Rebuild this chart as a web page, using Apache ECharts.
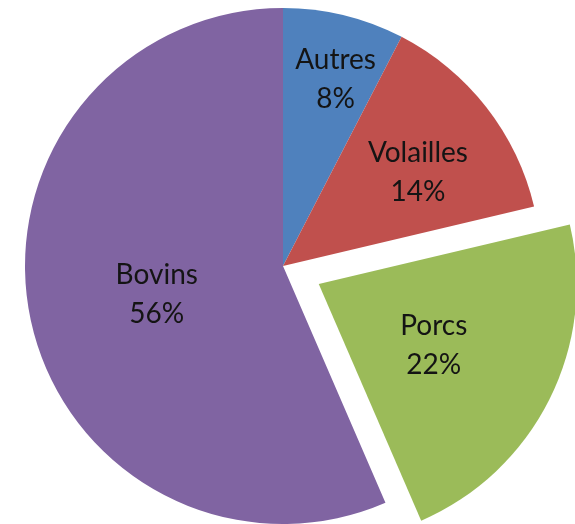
<!DOCTYPE html>
<html>
<head>
<meta charset="utf-8">
<script src="https://cdn.jsdelivr.net/npm/echarts@6/dist/echarts.min.js"></script>
<style>
html,body{margin:0;padding:0;background:#fff;}
#chart{width:575px;height:524px;}
</style>
</head>
<body>
<div id="chart"></div>
<script>
// Data
const categories = ['Autres', 'Volailles', 'Porcs', 'Bovins'];
const values = [7.6, 13.7, 22.2, 56.5];
const explodedCategories = ['Porcs'];

// Styles / label placement
const colors = ['#4F81BD', '#C0504D', '#9BBB59', '#8064A2'];
const labelRadiusFactor = [0.73, 0.61, 0.5, 0.5];
const labelNudge = [[7, 1], [8, 6], [-3, 2], [3, 2]];
const pieCenter = [283, 266];

const chart = echarts.init(document.getElementById('chart'));
chart.setOption({
  animation: false,
  backgroundColor: '#ffffff',
  series: [{
    type: 'pie',
    center: pieCenter,
    radius: 258,
    startAngle: 90,
    clockwise: true,
    selectedMode: 'multiple',
    selectedOffset: 40,
    avoidLabelOverlap: false,
    itemStyle: { borderWidth: 0 },
    emphasis: { disabled: true },
    percentPrecision: 0,
    label: {
      show: true,
      position: 'inside',
      formatter: '{b}\n{d}%',
      fontFamily: 'Lato',
      fontSize: 28,
      lineHeight: 39,
      color: '#141414'
    },
    labelLine: { show: false },
    labelLayout: function (p) {
      const f = labelRadiusFactor[p.dataIndex];
      const n = labelNudge[p.dataIndex];
      const r = p.labelRect;
      const cx = r.x + r.width / 2;
      const cy = r.y + r.height / 2;
      const s = f / 0.5 - 1;
      return { dx: (cx - pieCenter[0]) * s + n[0], dy: (cy - pieCenter[1]) * s + n[1] };
    },
    data: categories.map((c, i) => ({
      name: c,
      value: values[i],
      selected: explodedCategories.includes(c),
      itemStyle: { color: colors[i] }
    }))
  }]
});
</script>
</body>
</html>
